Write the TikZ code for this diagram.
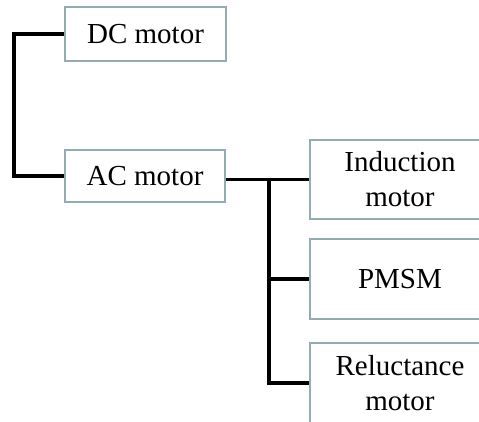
\documentclass[tikz,border=0pt]{standalone}
\usepackage{fontspec}
\setmainfont{Liberation Serif}
\definecolor{boxline}{RGB}{146,172,178}

\begin{document}
\begin{tikzpicture}[x=1pt,y=1pt,
  motor/.style={draw=boxline,line width=1.2pt,fill=white,align=center,inner sep=0pt,
    font=\fontsize{29}{35}\selectfont},
  link/.style={line width=3.2pt,line cap=butt}]
\clip (0,0) rectangle (479,-422);
% ---------- first level ----------
\node[motor,minimum width=161,minimum height=54] (dc) at (145.5,-34) {DC motor};
\node[motor,minimum width=160,minimum height=52] (ac) at (145,-176) {AC motor};
% ---------- AC motor types ----------
\node[motor,minimum width=180,minimum height=79] (ind) at (400,-179.5) {Induction\\motor};
\node[motor,minimum width=180,minimum height=80] (pmsm) at (400,-279) {PMSM};
\node[motor,minimum width=180,minimum height=80] (rel) at (400,-383) {Reluctance\\motor};
% 连接线
\coordinate (trunk) at (14,-34);
\coordinate (fork) at (269,-179.5);
\draw[link] (dc.west) -| (trunk) |- (ac.west);
\draw[link] (ac.east |- ind.west) -- (ind.west);
\draw[link] (fork) |- (pmsm.west);
\draw[link] (fork) |- (rel.west);
\end{tikzpicture}
\end{document}
